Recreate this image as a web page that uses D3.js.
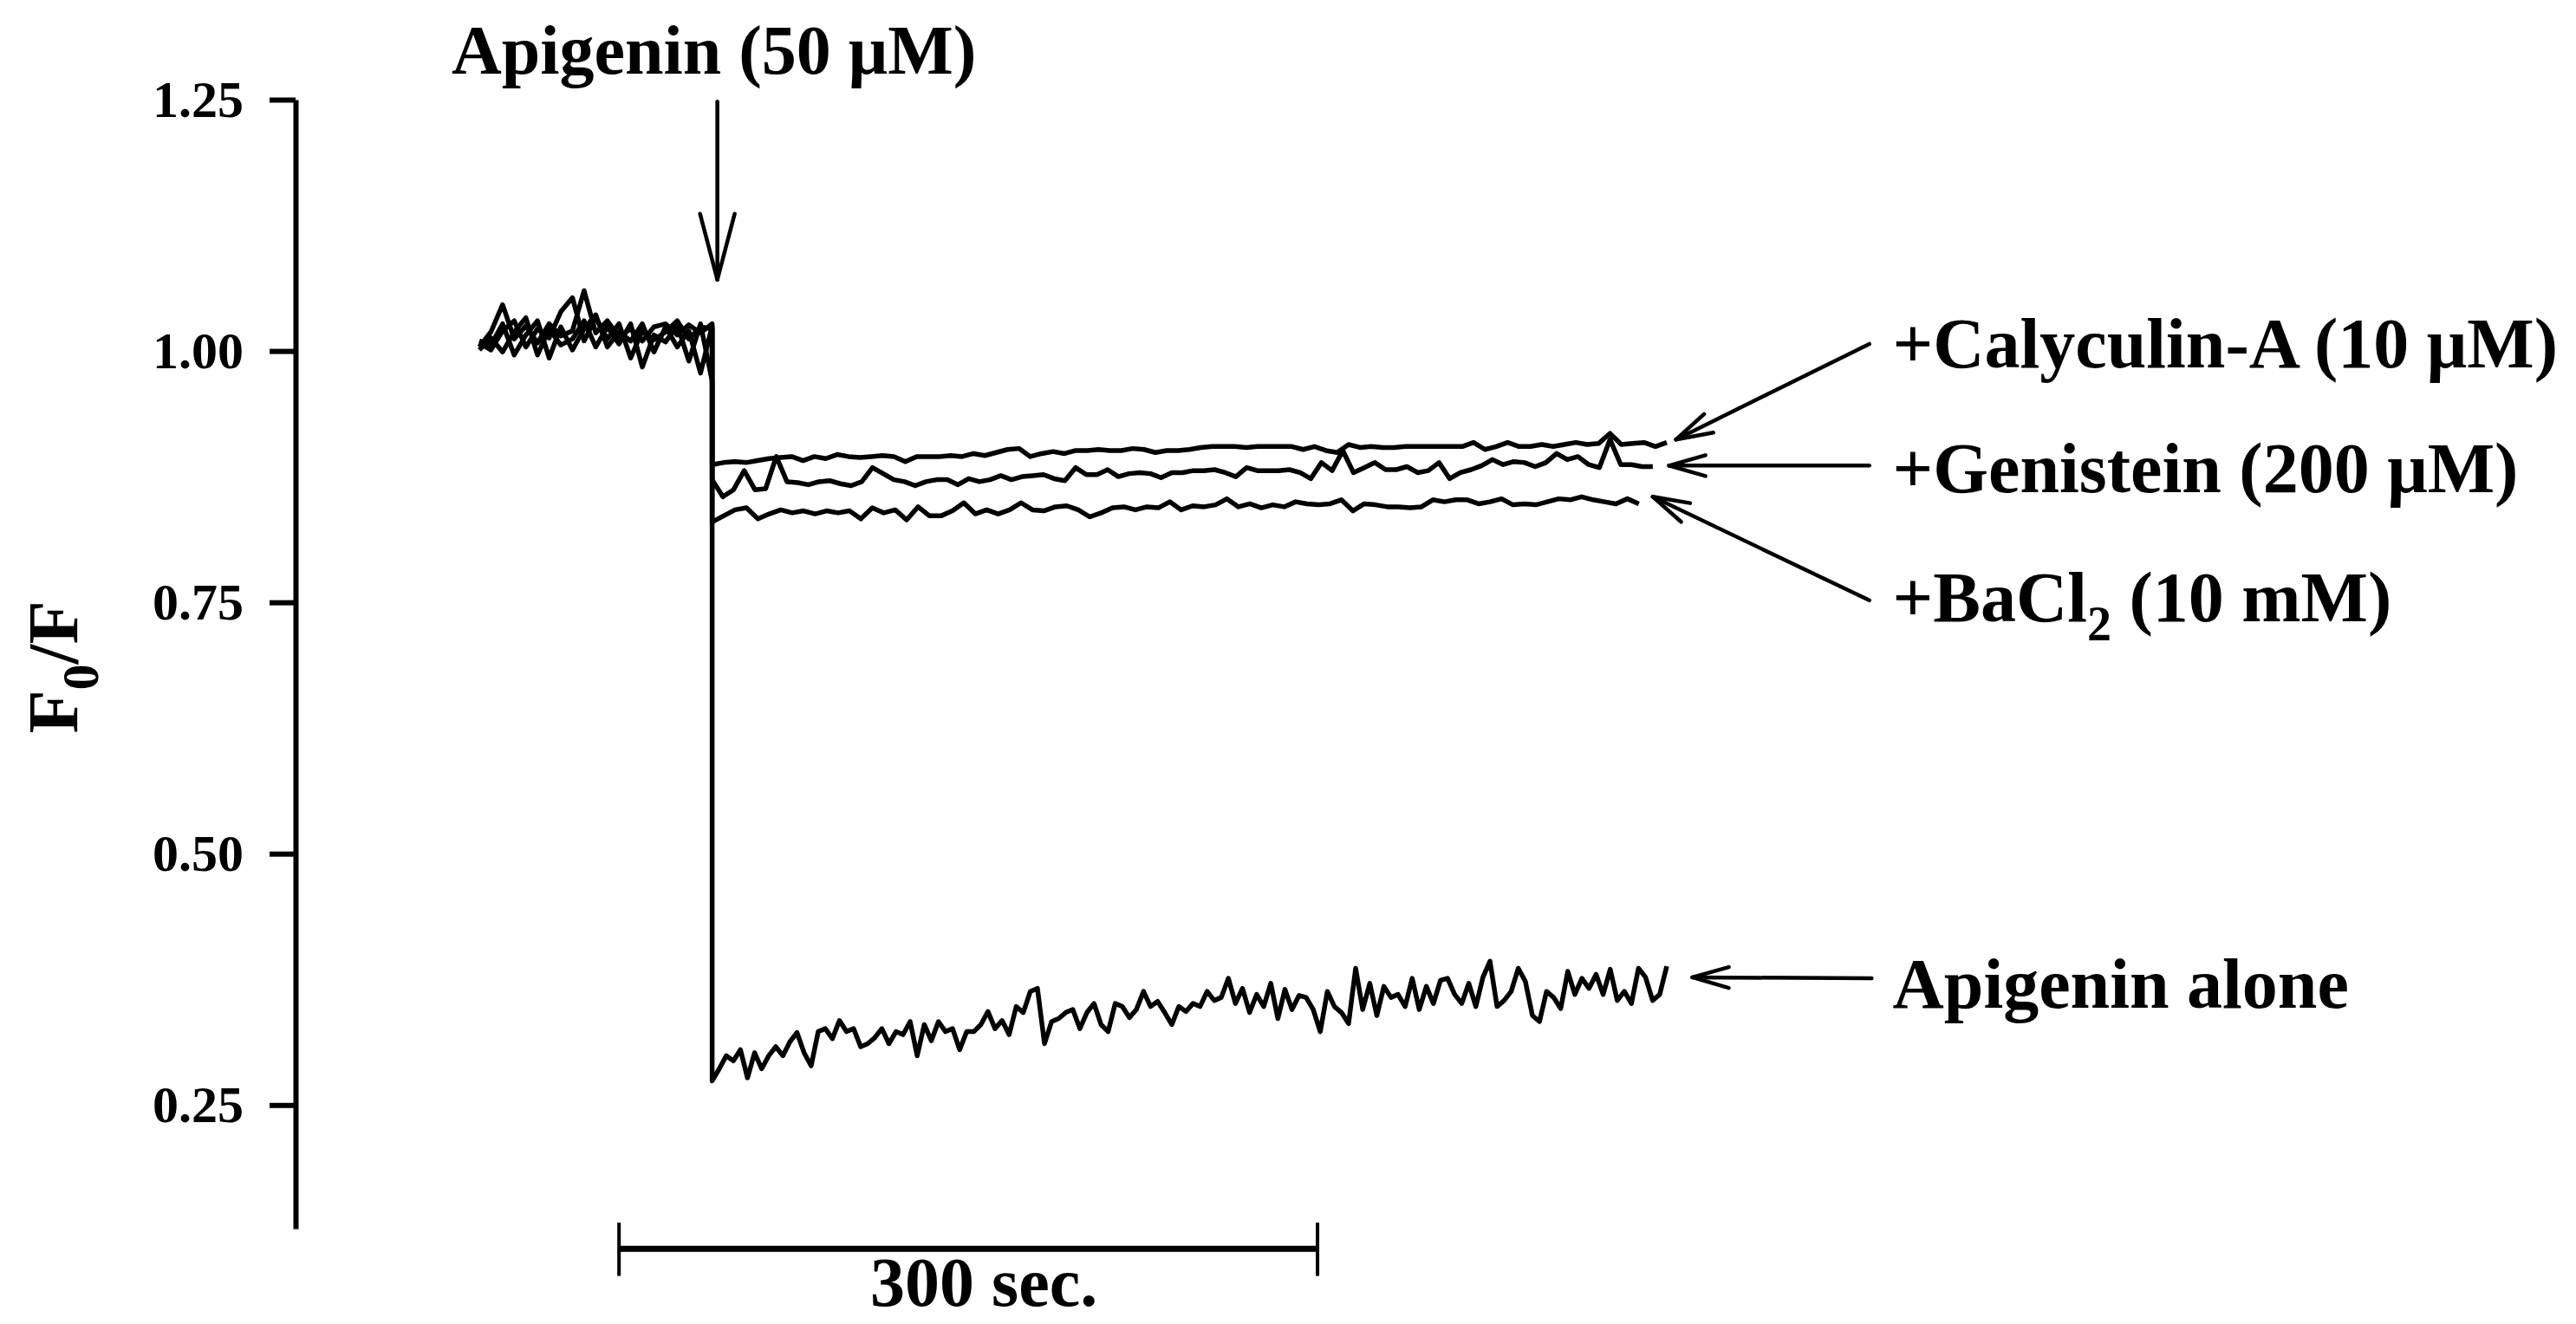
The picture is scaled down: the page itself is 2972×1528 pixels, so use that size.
<!DOCTYPE html>
<html lang="en">
<head>
    <meta charset="UTF-8"/>
    <title>Fo/F traces after apigenin</title>
    <style>
        body { margin: 0; background: #fff; }
        svg text { font-family: "Liberation Serif", "Times New Roman", serif; font-weight: bold; fill: #000; }
    </style>
</head>
<body>
<svg id="chart" width="2972" height="1528"></svg>

<script src="https://d3js.org/d3.v7.min.js"></script>
<script type="text/javascript">

    // time (s) when apigenin is added, sampling step before it
    const tAdd = 100;
    const preStep = 5;

    const yTicks = [0.25, 0.50, 0.75, 1.00, 1.25];

    // trace order: calyculin, genistein, BaCl2, apigenin alone
    const traceEnds = [510, 504, 498, 510];

    // baseline before addition (t = 0..100 s, every 5 s)
    const preCalyculin = [1.004, 1.019, 1.046, 1.012, 1.025, 1.008, 1.027, 1.015, 1.020, 1.060, 1.018,
        1.030, 1.014, 1.022, 1.010, 1.024, 1.027, 1.016, 1.026, 1.018, 1.027];
    const preGenistein = [1.008, 1.001, 1.020, 1.030, 1.004, 1.022, 1.013, 1.039, 1.053, 1.010, 1.033,
        1.012, 1.027, 0.993, 1.020, 1.011, 1.019, 1.030, 1.012, 1.024, 1.022];
    const preBaCl2 = [1.001, 1.013, 0.999, 1.019, 1.033, 0.996, 1.022, 1.006, 1.012, 1.030, 1.004,
        1.024, 1.007, 1.027, 0.984, 1.016, 1.009, 1.026, 0.990, 1.027, 0.970];
    const preAlone = [1.010, 1.006, 1.027, 0.996, 1.016, 1.030, 0.993, 1.024, 1.001, 1.022, 1.036,
        1.004, 1.019, 1.010, 1.027, 0.999, 1.024, 1.004, 1.020, 0.978, 1.025];

    // after addition (evenly spaced from tAdd to the trace end)
    const postCalyculin = [0.887, 0.889, 0.890, 0.889, 0.891, 0.893, 0.894, 0.895, 0.891, 0.895, 0.893,
        0.897, 0.895, 0.894, 0.895, 0.896, 0.895, 0.890, 0.895, 0.895, 0.895, 0.896, 0.895, 0.898,
        0.896, 0.899, 0.902, 0.903, 0.895, 0.898, 0.900, 0.898, 0.901, 0.901, 0.902, 0.901, 0.901,
        0.903, 0.902, 0.899, 0.901, 0.901, 0.902,
        0.904, 0.905, 0.905, 0.905, 0.904, 0.905, 0.905, 0.905, 0.905, 0.902, 0.905, 0.901, 0.899,
        0.907, 0.904, 0.905, 0.904, 0.904, 0.905, 0.905, 0.905, 0.905, 0.905, 0.905, 0.909, 0.902,
        0.905, 0.909, 0.905, 0.905, 0.907, 0.905, 0.907, 0.909, 0.907, 0.908, 0.918, 0.907, 0.908,
        0.909, 0.905, 0.909];
    const postGenistein = [0.872, 0.855, 0.862, 0.881, 0.862, 0.863, 0.895, 0.870, 0.869, 0.867, 0.870,
        0.871, 0.868, 0.866, 0.870, 0.884, 0.878, 0.872, 0.870, 0.866, 0.870, 0.872, 0.872, 0.867,
        0.873, 0.870, 0.872, 0.876, 0.872, 0.875, 0.876, 0.877, 0.873, 0.871, 0.884, 0.877, 0.877,
        0.882, 0.875, 0.878, 0.879, 0.878, 0.874, 0.879,
        0.879, 0.881, 0.881, 0.882, 0.879, 0.875, 0.884, 0.881, 0.881, 0.881, 0.882, 0.879, 0.873,
        0.889, 0.881, 0.901, 0.879, 0.884, 0.889, 0.882, 0.882, 0.885, 0.879, 0.881, 0.889, 0.873,
        0.879, 0.882, 0.886, 0.892, 0.887, 0.890, 0.889, 0.885, 0.889, 0.898, 0.892, 0.895, 0.887,
        0.884, 0.912, 0.887, 0.887, 0.885, 0.885];
    const postBaCl2 = [0.830, 0.836, 0.842, 0.844, 0.833, 0.838, 0.842, 0.839, 0.841, 0.838, 0.841,
        0.839, 0.841, 0.833, 0.844, 0.839, 0.842, 0.832, 0.845, 0.836, 0.836, 0.841, 0.849, 0.838,
        0.842, 0.838, 0.842, 0.849, 0.842, 0.841, 0.845, 0.846, 0.842, 0.835, 0.839, 0.844, 0.845,
        0.842, 0.845, 0.844, 0.850, 0.842, 0.846,
        0.845, 0.847, 0.853, 0.845, 0.848, 0.844, 0.847, 0.845, 0.850, 0.848, 0.847, 0.848, 0.852,
        0.841, 0.848, 0.847, 0.845, 0.845, 0.844, 0.845, 0.852, 0.850, 0.852, 0.852, 0.848, 0.850,
        0.853, 0.847, 0.848, 0.847, 0.850, 0.853, 0.852, 0.855, 0.852, 0.850, 0.848, 0.853, 0.848];
    const postAlone = [0.274, 0.286, 0.299, 0.294, 0.305, 0.277, 0.302, 0.286, 0.299, 0.308,
        0.299, 0.313, 0.322, 0.302, 0.289, 0.323, 0.326, 0.316, 0.334, 0.323,
        0.326, 0.308, 0.311, 0.317, 0.326, 0.311, 0.323, 0.320, 0.333, 0.299,
        0.330, 0.314, 0.333, 0.323, 0.326, 0.305, 0.323, 0.323, 0.330, 0.343,
        0.326, 0.334, 0.320, 0.348, 0.342, 0.363, 0.366, 0.311, 0.333, 0.336,
        0.342, 0.345, 0.326, 0.342, 0.351, 0.330, 0.323, 0.351, 0.348, 0.337,
        0.345, 0.363, 0.348, 0.353, 0.342, 0.330, 0.348, 0.343, 0.351,
        0.348, 0.363, 0.354, 0.357, 0.376, 0.351, 0.366, 0.342, 0.360, 0.348,
        0.371, 0.336, 0.365, 0.345, 0.359, 0.357, 0.345, 0.323, 0.363, 0.348,
        0.342, 0.331, 0.386, 0.345, 0.371, 0.339, 0.368, 0.357, 0.360, 0.348,
        0.376, 0.345, 0.368, 0.351, 0.374, 0.376, 0.360, 0.351, 0.371, 0.348,
        0.377, 0.393, 0.348, 0.354, 0.363, 0.386, 0.373, 0.339, 0.333, 0.363,
        0.357, 0.346, 0.383, 0.360, 0.376, 0.366, 0.380, 0.360, 0.385, 0.354,
        0.363, 0.351, 0.386, 0.377, 0.354, 0.360, 0.388];

    const preTraces = [preCalyculin, preGenistein, preBaCl2, preAlone];
    const postTraces = [postCalyculin, postGenistein, postBaCl2, postAlone];

    let svg = d3.select("svg"),
        width = +svg.attr("width"),
        height = +svg.attr("height");

    svg.append("rect").attr("width", width).attr("height", height).attr("fill", "#fff");

    // time in seconds -> px, F0/F -> px
    let x = d3.scaleLinear().domain([0, 510]).range([553, 1923]);
    let y = d3.scaleLinear().domain([0.127, 1.25]).range([1418, 115]);

    // y axis
    let yAxis = svg.append("g")
        .attr("transform", "translate(341,0)")
        .call(d3.axisLeft(y)
            .tickValues(yTicks)
            .tickFormat(d3.format(".2f"))
            .tickSize(30)
            .tickSizeOuter(0)
            .tickPadding(30));
    yAxis.select(".domain").attr("stroke", "#000").attr("stroke-width", 6);
    yAxis.selectAll(".tick line").attr("stroke", "#000").attr("stroke-width", 6);
    yAxis.selectAll(".tick text")
        .attr("font-size", 60)
        .style("font-family", "'Liberation Serif', serif")
        .style("font-weight", "bold");

    // y label F0/F
    let ylab = svg.append("text")
        .attr("transform", "translate(89," + 770 + ") rotate(-90)")
        .attr("text-anchor", "middle")
        .attr("font-size", 82);
    ylab.append("tspan").text("F");
    ylab.append("tspan").attr("font-size", 60).attr("dy", 24).text("0");
    ylab.append("tspan").attr("dy", -24).text("/F");

    // traces
    let line = d3.line()
        .x(d => x(d[0]))
        .y(d => y(d[1]));

    let traces = preTraces.map(function (pre, i) {
        let post = postTraces[i];
        let dt = (traceEnds[i] - tAdd) / (post.length - 1);
        let pts = pre.map((v, k) => [k * preStep, v]);
        return pts.concat(post.map((v, k) => [tAdd + k * dt, v]));
    });

    svg.append("g")
        .selectAll("path")
        .data(traces)
        .enter().append("path")
        .attr("d", line)
        .attr("fill", "none")
        .attr("stroke", "#000")
        .attr("stroke-width", 5.5)
        .attr("stroke-linejoin", "round");

    // arrow with an open V head
    function arrow(x1, y1, x2, y2, len, half, sw) {
        let a = Math.atan2(y2 - y1, x2 - x1);
        let ang = Math.atan2(half, len);
        let g = svg.append("g").attr("stroke", "#000").attr("stroke-width", sw)
            .attr("fill", "none").attr("stroke-linecap", "round");
        g.append("line").attr("x1", x1).attr("y1", y1).attr("x2", x2).attr("y2", y2);
        let r = Math.hypot(len, half);
        [1, -1].forEach(function (s) {
            g.append("line")
                .attr("x1", x2).attr("y1", y2)
                .attr("x2", x2 - r * Math.cos(a + s * ang))
                .attr("y2", y2 - r * Math.sin(a + s * ang));
        });
    }

    // Apigenin addition marker
    svg.append("text")
        .attr("x", x(tAdd) + 2)
        .attr("y", y(1.276))
        .attr("text-anchor", "middle")
        .attr("font-size", 80)
        .text("Apigenin (50 μM)");
    arrow(x(tAdd) + 6, y(1.248), x(tAdd) + 6, y(1.071), 76, 20, 4.5);

    // right hand labels
    const labelX = 607;
    const labelY = [0.984, 0.860, 0.731, 0.347];
    const arrowFrom = [[597, 1.007], [597, 0.886], [597, 0.752], [598, 0.376]];
    const arrowTo = [[514, 0.912], [511, 0.886], [504, 0.855], [521, 0.377]];

    arrowFrom.forEach(function (f, i) {
        arrow(x(f[0]), y(f[1]), x(arrowTo[i][0]), y(arrowTo[i][1]), 42, 12, 4.5);
    });

    svg.append("text").attr("x", x(labelX)).attr("y", y(labelY[0]))
        .attr("font-size", 82).text("+Calyculin-A (10 μM)");
    svg.append("text").attr("x", x(labelX)).attr("y", y(labelY[1]))
        .attr("font-size", 82).text("+Genistein (200 μM)");
    let ba = svg.append("text").attr("x", x(labelX)).attr("y", y(labelY[2]))
        .attr("font-size", 82);
    ba.append("tspan").text("+BaCl");
    ba.append("tspan").attr("font-size", 56).attr("dy", 22).text("2");
    ba.append("tspan").attr("dy", -22).text(" (10 mM)");
    svg.append("text").attr("x", x(labelX)).attr("y", y(labelY[3]))
        .attr("font-size", 82).text("Apigenin alone");

    // 300 s scale bar
    const barStart = 60, barLen = 300;
    let bar = svg.append("g").attr("stroke", "#000");
    bar.append("line")
        .attr("x1", x(barStart)).attr("x2", x(barStart + barLen))
        .attr("y1", y(0.107)).attr("y2", y(0.107))
        .attr("stroke-width", 7);
    [barStart, barStart + barLen].forEach(function (t) {
        bar.append("line")
            .attr("x1", x(t)).attr("x2", x(t))
            .attr("y1", y(0.133)).attr("y2", y(0.080))
            .attr("stroke-width", 4);
    });
    svg.append("text")
        .attr("x", x(barStart + barLen / 2) + 18)
        .attr("y", y(0.050))
        .attr("text-anchor", "middle")
        .attr("font-size", 80)
        .text(barLen + " sec.");

</script>
</body>
</html>
